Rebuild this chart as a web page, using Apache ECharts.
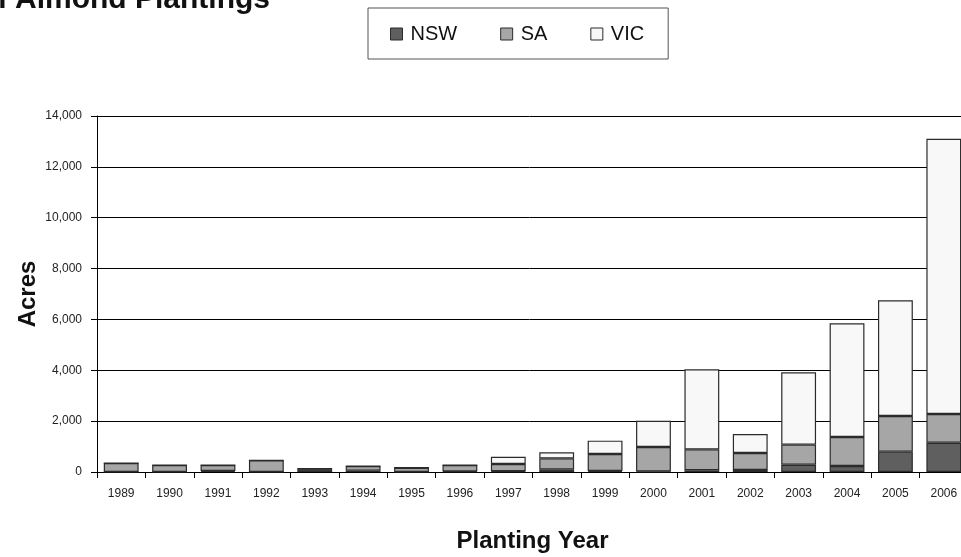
<!DOCTYPE html>
<html>
<head>
<meta charset="utf-8">
<script src="https://cdn.jsdelivr.net/npm/echarts@6/dist/echarts.min.js"></script>
<style>html,body{margin:0;padding:0;background:#fff;}#c{width:961px;height:557px;}</style>
</head>
<body>
<div id="c"></div>
<script>
const years = ['1989','1990','1991','1992','1993','1994','1995','1996','1997','1998','1999','2000','2001','2002','2003','2004','2005','2006'];
const nsw = [0, 0, 40, 0, 110, 50, 0, 25, 30, 105, 40, 20, 66, 79, 288, 236, 800, 1153];
const sa  = [350, 275, 235, 460, 20, 185, 170, 250, 285, 432, 668, 963, 825, 668, 787, 1140, 1402, 1127];
const vic = [0, 0, 0, 0, 0, 0, 0, 0, 285, 236, 524, 1035, 3146, 747, 2844, 4469, 4548, 10826];
const yTicks = [0, 2000, 4000, 6000, 8000, 10000, 12000, 14000];

const chart = echarts.init(document.getElementById('c'), null, {renderer: 'canvas'});
const font = '"Liberation Sans", Arial, sans-serif';
const border = '#2b2b2b';
const mk = (name, data, color) => ({
  name, type: 'bar', stack: 'total', data,
  barCategoryGap: '28%',
  itemStyle: {color, borderColor: border, borderWidth: 1.2},
  emphasis: {disabled: true}
});
chart.setOption({
  animation: false,
  backgroundColor: '#fff',
  title: {
    text: 'Annual Almond Plantings',
    right: 691, top: -15, padding: 0,
    textStyle: {fontFamily: font, fontWeight: 'bold', fontSize: 30, color: '#111'}
  },
  legend: {
    data: [
      {name: 'NSW', icon: 'rect'},
      {name: 'SA', icon: 'rect'},
      {name: 'VIC', icon: 'rect'}
    ],
    left: 368, top: 8,
    padding: [16, 24, 15, 22],
    itemWidth: 12, itemHeight: 12, itemGap: 43,
    borderColor: '#555', borderWidth: 1,
    textStyle: {fontFamily: font, fontSize: 20, color: '#111', padding: [0, 0, 0, 3]},
    itemStyle: {borderColor: border, borderWidth: 1}
  },
  grid: {left: 97, top: 116, width: 871, height: 356, containLabel: false, outerBoundsMode: 'none'},
  xAxis: {
    type: 'category', data: years,
    name: 'Planting Year', nameLocation: 'middle', nameGap: 57, nameMoveOverlap: false,
    nameTextStyle: {fontFamily: font, fontWeight: 'bold', fontSize: 24, color: '#111'},
    axisLine: {lineStyle: {color: '#000', width: 1}},
    axisTick: {show: true, length: 6, alignWithLabel: false, lineStyle: {color: '#000'}},
    axisLabel: {fontFamily: font, fontSize: 12, color: '#222', margin: 16, interval: 0}
  },
  yAxis: {
    type: 'value', min: 0, max: 14000, interval: 2000,
    name: 'Acres', nameLocation: 'middle', nameGap: 57, nameRotate: 90, nameMoveOverlap: false,
    nameTextStyle: {fontFamily: font, fontWeight: 'bold', fontSize: 24, color: '#111'},
    axisLine: {show: true, lineStyle: {color: '#000', width: 1}},
    axisTick: {show: true, length: 6, lineStyle: {color: '#000'}},
    axisLabel: {fontFamily: font, fontSize: 12, color: '#222', margin: 15,
      formatter: v => yTicks.includes(v) ? v.toLocaleString('en-US') : ''},
    splitLine: {show: true, lineStyle: {color: '#000', width: 1}}
  },
  series: [
    mk('NSW', nsw, '#5f5f5f'),
    mk('SA', sa, '#a6a6a6'),
    mk('VIC', vic, '#f8f8f8')
  ]
});
</script>
</body>
</html>
